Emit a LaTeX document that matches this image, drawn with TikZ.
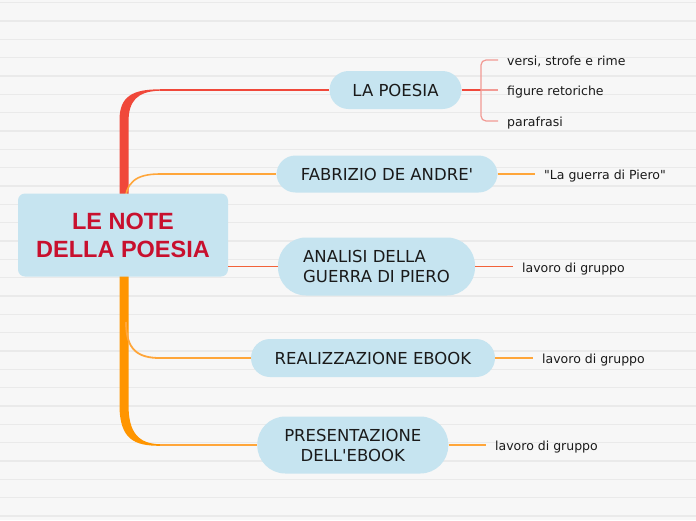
\documentclass[tikz,border=0pt]{standalone}
\usepackage{fontspec}
\setmainfont{DejaVu Sans}[Ligatures=TeXOff]
\newfontfamily\titlefont{Liberation Sans}
\usepackage{tikz}
\usetikzlibrary{calc}
\usepackage{xcolor}
\definecolor{paper}{HTML}{F7F7F7}
\definecolor{ruling}{HTML}{EAEAEA}
\definecolor{bubble}{HTML}{C6E4F0}
\definecolor{titlered}{HTML}{C8102E}
\definecolor{branchred}{HTML}{F0483A}
\definecolor{branchorange}{HTML}{FF9500}
\definecolor{lightorange}{HTML}{FFA63A}
\definecolor{redorange}{HTML}{F2623A}
\definecolor{leafpink}{HTML}{F29A94}
\definecolor{ink}{HTML}{1A1A1A}

\tikzset{
  topic/.style={fill=bubble, rounded corners=19pt, inner sep=0pt, text=ink,
    font=\fontsize{16.5}{20}\selectfont, align=center},
  topictwo/.style={topic, rounded corners=28pt},
  leaf/.style={anchor=west, inner xsep=9pt, inner ysep=0pt, text=ink,
    text height=12pt, text depth=0.5pt, font=\fontsize{12.5}{15}\selectfont},
  twig/.style={line width=1.2pt},
}

\begin{document}
\begin{tikzpicture}[x=1pt, y=-1pt]
\useasboundingbox (0,0) rectangle (696,520);
\fill[paper] (0,0) rectangle (696,520);
\foreach \k in {0,...,28}
  \draw[ruling, line width=1.2pt] (0,{2.7+18.33*\k}) -- (696,{2.7+18.33*\k});

% trunk
\fill[branchorange] (119.5,215) -- (119.5,405) .. controls (119.5,440) and (135,445.8) .. (160,445.8)
  -- (160,444.2) .. controls (138,443.8) and (128.5,432) .. (128.5,405) -- (128.5,215) -- cycle;
\fill[branchred] (119.5,215) -- (119.5,120) .. controls (119.5,96) and (133,89.3) .. (160,89.3)
  -- (160,90.7) .. controls (137,91.3) and (128.5,101) .. (128.5,122) -- (128.5,215) -- cycle;
\draw[lightorange, line width=1.6pt] (125,205) .. controls (125,182) and (136,174) .. (160,174);
\draw[lightorange, line width=1.8pt] (126,322) .. controls (126,350) and (138,358) .. (160,358);

% main topics
\node[fill=bubble, rounded corners=7pt, minimum width=210pt, minimum height=83pt, inner sep=0pt,
  text=titlered, font=\titlefont\bfseries\fontsize{23.5}{28}\selectfont, align=center]
  (title) at (123,235) {LE NOTE\\DELLA POESIA};
\node[topic, minimum width=132pt, minimum height=38pt] (poesia) at (395.5,90) {LA POESIA};
\node[topic, minimum width=221pt, minimum height=37pt] (fabrizio) at (387,174) {FABRIZIO DE ANDRE'};
\node[topictwo, align=left, minimum width=197pt, minimum height=58pt] (analisi) at (376.5,266.5)
  {ANALISI DELLA\\GUERRA DI PIERO};
\node[topic, minimum width=244pt, minimum height=38pt] (ebook) at (373,358) {REALIZZAZIONE EBOOK};
\node[topictwo, minimum width=191pt, minimum height=57pt] (presenta) at (352.8,445)
  {PRESENTAZIONE\\DELL'EBOOK};

% leaves
\node[leaf] (versi) at (498,60) {versi, strofe e rime};
\node[leaf] (figure) at (498,90) {figure retoriche};
\node[leaf] (parafrasi) at (498,121) {parafrasi};
\node[leaf] (canzone) at (535,174) {"La guerra di Piero"};
\node[leaf] (gruppoA) at (513,266.5) {lavoro di gruppo};
\node[leaf] (gruppoB) at (533,358) {lavoro di gruppo};
\node[leaf] (gruppoC) at (486,445) {lavoro di gruppo};
\coordinate (fork) at (481,90);

% connectors
\draw[branchred, twig] (160,90) -- (poesia.west);
\draw[lightorange, twig] (160,174) -- (fabrizio.west);
\draw[redorange, twig] (title.east |- analisi.west) -- (analisi.west);
\draw[lightorange, twig] (160,358) -- (ebook.west);
\draw[lightorange, twig] (160,445) -- (presenta.west);

\draw[branchred, twig] (poesia.east) -- (fork);
\draw[leafpink, twig] (fork) -- (figure.west);
\draw[leafpink, twig, rounded corners=5pt] (versi.west) -| (fork) |- (parafrasi.west);
\draw[lightorange, twig] (fabrizio.east) -- (canzone.west);
\draw[redorange, twig] (analisi.east) -- (gruppoA.west);
\draw[lightorange, twig] (ebook.east) -- (gruppoB.west);
\draw[lightorange, twig] (presenta.east) -- (gruppoC.west);
\end{tikzpicture}
\end{document}
